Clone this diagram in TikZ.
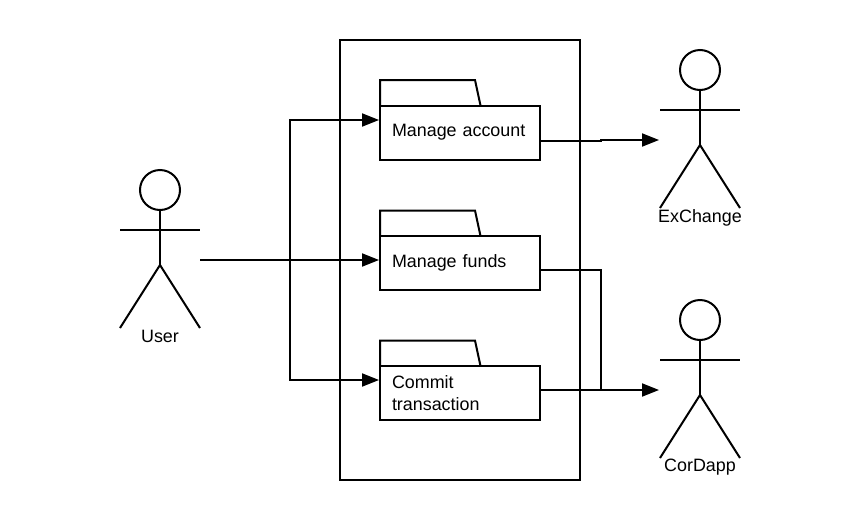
\documentclass[tikz,border=0pt]{standalone}
\usepackage{fontspec}
\setmainfont{Liberation Sans}
\usetikzlibrary{arrows.meta}
\tikzset{
    line/.style={line width=2pt},
    link/.style={line, -{Triangle[length=17pt,width=13pt]}, shorten >=1pt},
    package/.style={line, draw, fill=white, minimum width=160pt, minimum height=54pt, outer sep=0pt, inner xsep=12pt, text width=136pt, align=left, font=\fontsize{17.9}{22}\selectfont},
    label/.style={font=\fontsize{17.9}{22}\selectfont}
}
\begin{document}
\begin{tikzpicture}[x=1pt, y=-1pt]
    \useasboundingbox (0,0) rectangle (860,520);
    % System boundary
    \node[line, draw, minimum width=240pt, minimum height=440pt, outer sep=0pt] (System) at (460,260) {};
    % Actors
    \foreach \name/\i/\x/\y/\h in {User/1/160/190/146.5,ExChange/2/700/70/148,CorDapp/3/700/320/147} {
        \node[line, draw, circle, minimum size=40pt, inner sep=0pt, outer sep=0pt] (Head-\i) at (\x,\y) {};
        \draw[line] (Head-\i.south) -- ++(0,55) coordinate (Hip-\i);
        \draw[line] (\x-40,\y+40) -- (\x+40,\y+40);
        \draw[line] (\x-40,\y+138) -- (Hip-\i) -- (\x+40,\y+138);
        \node[label] (Actor-\i) at (\x,\y+\h) {\name};
    }
    % Packages
    \foreach \name/\i/\y in {{\raisebox{-2pt}{Manage account}}/1/132.5,{\raisebox{-.5pt}{Manage funds}}/2/263,{Commit\\transaction}/3/393} {
        \node[package] (Package-\i) at (460,\y) {\name};
        \draw[line] (Package-\i.north west) -- ++(0,-25.5) -- ++(95,0) -- ([xshift=-59.5pt]Package-\i.north east);
    }
    % Free ends
    \coordinate (User-out) at (200,260);
    \coordinate (Branch) at (290,260);
    \coordinate (ExChange-in) at (660,140);
    \coordinate (CorDapp-in) at (660,390);
    % Arrows
    \draw[link] (User-out) -- ([yshift=3pt]Package-2.west);
    \draw[link] (Branch) |- ([yshift=12.5pt]Package-1.west);
    \draw[link] (Branch) |- ([yshift=13pt]Package-3.west);
    \draw[link] ([yshift=-8.5pt]Package-1.east) -- (601,141) -- (601,140) -- (ExChange-in);
    \draw[line] ([yshift=-7pt]Package-2.east) -| (601,390);
    \draw[link] ([yshift=3pt]Package-3.east) -- (CorDapp-in);
\end{tikzpicture}
\end{document}
